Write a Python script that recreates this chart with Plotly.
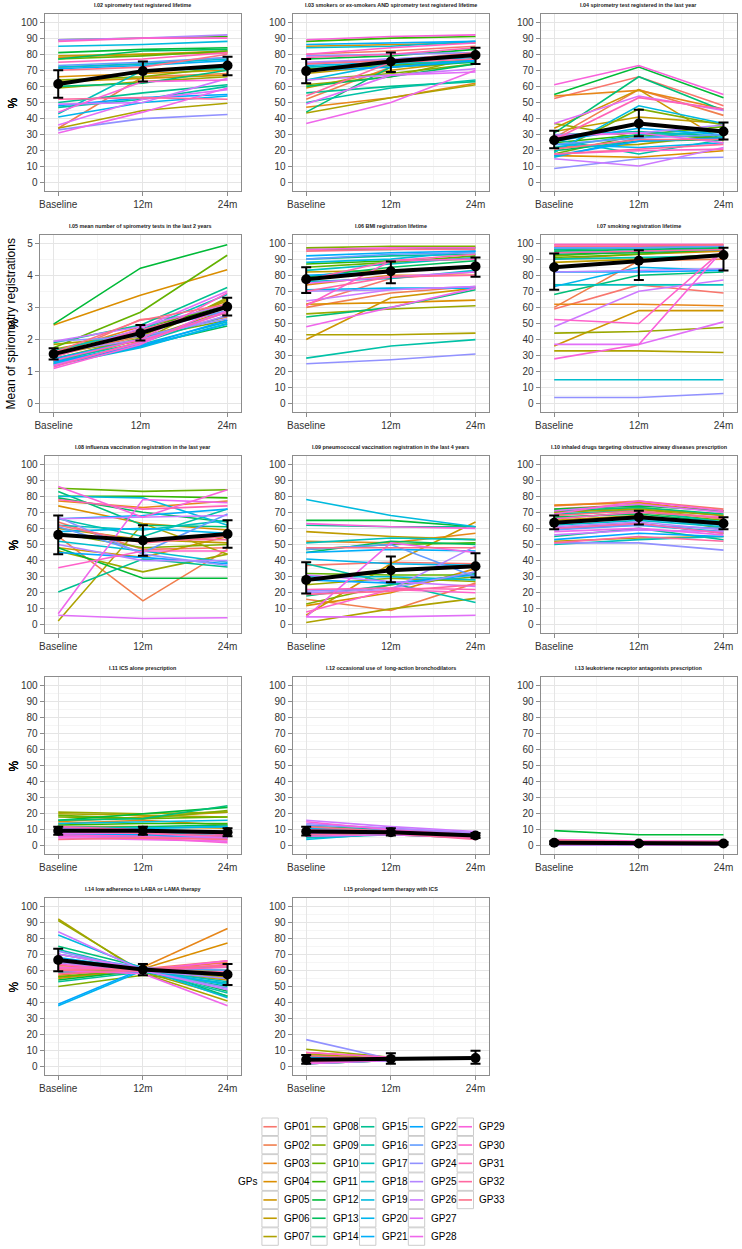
import math
import plotly.graph_objects as go

# ---------------- data ----------------
TIME_POS = [1, 2, 3]
TIME_LABELS = ["Baseline", "12m", "24m"]
GP_NAMES = ["GP%02d" % i for i in range(1, 34)]

PANEL_TITLES = [
    "I.02 spirometry test registered lifetime",
    "I.03 smokers or ex-smokers AND spirometry test registered lifetime",
    "I.04 spirometry test registered in the last year",
    "I.05 mean number of spirometry tests in the last 2 years",
    "I.06 BMI registration lifetime",
    "I.07 smoking registration lifetime",
    "I.08 influenza vaccination registration in the last year",
    "I.09 pneumococcal vaccination registration in the last 4 years",
    "I.10 inhaled drugs targeting obstructive airway diseases prescription",
    "I.11 ICS alone prescription",
    "I.12 occasional use of  long-action bronchodilators",
    "I.13 leukotriene receptor antagonists prescription",
    "I.14 low adherence to LABA or LAMA therapy",
    "I.15 prolonged term therapy with ICS",
]

# per-GP values (Baseline, 12m, 24m), GP01..GP33
I02 = [(72, 74, 78), (34, 66, 68), (78, 80, 82), (66, 68, 70), (63, 65, 67), (79, 80, 81), (34, 45, 49.5),
       (59, 63, 66), (64, 66, 72), (77, 79, 82), (89, 90, 91), (81, 83, 84), (77, 82, 83), (60, 62, 70),
       (50, 56, 61), (47, 52, 60), (43, 70, 71), (72, 74, 77), (85, 86, 88), (41, 50, 54), (71, 73, 76),
       (48, 53, 55), (73, 75, 78), (33, 40, 42.5), (89, 90, 92), (49, 50, 65), (36, 52, 58), (31, 44, 59),
       (44, 63, 64), (88, 90, 90), (75, 77, 81), (52, 53, 52), (70, 72, 80)]
I03 = [(80, 82, 85), (52, 72, 77), (47, 53, 62), (85, 86, 87), (59, 70, 76), (68, 73, 80), (43.5, 53, 61),
       (61, 66, 78), (64, 68, 74), (71, 73, 76), (88, 90, 91), (77, 79, 83), (60, 66, 74), (44, 72, 75),
       (56, 60, 63), (50, 59, 64), (72, 74, 76), (84, 85, 88), (64, 74, 80), (73, 75, 78), (86, 87, 88),
       (70, 72, 76), (74, 77, 80), (79, 80, 81), (75, 77, 79), (64, 67, 71), (49, 67, 69), (37, 50, 70),
       (89, 91, 92), (80, 84, 87), (78, 80, 84), (54, 75, 77), (74, 76, 81)]
I04 = [(52.5, 66, 48), (28, 58, 42), (54, 57.5, 46), (17, 16, 20), (34, 58, 26), (32, 41, 37), (22, 24, 30),
       (37, 28, 33), (19, 46, 36), (18, 30, 35), (25, 30, 28), (55, 72, 53), (20, 26, 27), (31, 66, 45),
       (30, 32, 29), (27, 18, 27), (22, 30, 32), (16, 28, 33), (19, 48, 37), (24, 22, 25), (26, 34, 30),
       (17, 26, 28), (24, 28, 30), (9, 15, 16), (30, 31, 36), (15, 10.5, 22), (37, 54, 45), (29, 31, 25),
       (61, 73, 55), (18, 20, 21), (27, 53, 46), (18, 21, 24), (21, 27, 27)]
I05 = [(1.45, 2.62, 2.8), (1.5, 2.1, 2.7), (1.6, 2.4, 3.0), (2.45, 3.38, 4.17), (1.3, 2.0, 2.9),
       (1.7, 2.2, 3.2), (1.85, 2.1, 3.25), (1.6, 1.95, 3.3), (1.4, 2.05, 2.6), (1.75, 2.85, 4.62),
       (1.5, 2.3, 3.1), (2.48, 4.22, 4.95), (1.25, 1.8, 2.42), (1.55, 2.2, 3.0), (1.9, 2.45, 3.62),
       (1.35, 1.9, 2.75), (1.65, 2.3, 3.4), (1.3, 1.85, 2.55), (1.2, 1.75, 2.5), (1.25, 1.78, 2.48),
       (1.4, 2.0, 2.85), (1.3, 1.8, 2.6), (1.5, 2.25, 2.9), (1.95, 2.1, 2.65), (1.6, 2.0, 2.75),
       (1.95, 2.4, 3.1), (1.45, 2.35, 3.5), (1.2, 1.9, 2.9), (1.1, 1.85, 3.05), (1.35, 2.0, 3.45),
       (1.15, 1.95, 2.85), (1.45, 2.3, 3.0), (1.6, 2.6, 3.1)]
I06 = [(62, 78, 82), (60, 69, 73), (74, 80, 80), (62, 63, 64.5), (40, 66, 72), (82, 83, 85), (43, 43, 44),
       (56, 59, 61), (97, 98, 98), (85, 88, 92), (87, 89, 90), (96, 96, 97), (79, 85, 89), (54, 60, 71),
       (90, 92, 93), (28.5, 36, 40), (83, 87, 91), (76, 78, 83), (88, 90, 95), (71, 72, 72), (92, 94, 95),
       (80, 82, 86), (90, 93, 94), (25, 27.5, 31), (70, 71, 73), (64, 71, 73), (75, 79, 82), (48, 60, 72),
       (96, 97, 97), (61, 89, 90), (77, 89, 93), (70, 79, 80), (95, 96, 96)]
I07 = [(59, 74, 69), (60, 89, 90), (62, 62, 61), (90, 93, 95), (36, 58, 58), (88, 90, 93), (33, 33, 32),
       (44, 45, 47.5), (92, 95, 97), (91, 93, 96), (96, 97, 98), (93, 94, 96), (95, 96, 97), (68, 80, 82),
       (96, 97, 98), (90, 91, 92), (74, 74, 74), (15, 15, 15), (97, 98, 98), (73, 85, 83), (94, 95, 96),
       (82, 82, 83), (97, 97, 98), (4, 4, 6.5), (82, 83, 84), (48, 70, 77), (37, 37, 51), (99, 99, 99),
       (28, 37, 96), (52.5, 50, 96), (99, 99, 99), (94, 95, 96), (98, 98, 99)]
I08 = [(64, 47, 48), (55, 15, 47), (77, 73, 77), (74, 63, 59), (48, 42, 55), (60, 53, 51), (2.5, 63, 44),
       (46, 33, 44), (57, 48, 50), (85, 83, 84), (80, 80, 79), (48, 29, 29), (79, 70, 64), (83, 62, 61),
       (20.5, 41, 36), (66, 55, 72), (62, 59, 65), (52, 46, 39), (80, 79, 62), (58, 60, 57), (66, 68, 72),
       (45, 42, 38), (61, 45, 69), (67, 44, 37), (50, 40, 40), (66, 67, 68), (6, 4, 4.5), (7, 78, 76),
       (86, 67, 84), (35.5, 46, 46), (78, 72, 74), (56, 53, 53), (62, 51, 55)]
I09 = [(37, 39, 38), (16, 9, 26), (52, 51, 57), (12, 20, 35), (6, 38, 64), (58, 55, 53), (1.5, 10, 16.5),
       (25, 29, 27), (13, 25, 30), (32, 31, 31), (47, 50, 51), (65, 65, 61), (45, 52, 50), (18, 25, 32),
       (62, 61, 61), (38, 26, 14), (51, 54, 53), (30, 30, 28), (78, 68, 61), (41, 38, 37), (45, 47, 46),
       (28, 26, 31), (47, 50, 30), (21, 23, 33), (20, 22, 49), (31, 27, 24), (5, 5, 6), (5, 51, 45),
       (63, 61, 60), (8, 22, 20), (22, 23, 22), (19, 21, 25), (48, 48, 48)]
I10 = [(74, 77, 72), (72, 75, 71), (74.5, 76, 70), (70, 73, 68), (65, 68, 62), (52, 54, 55), (68, 72, 66),
       (70, 72, 68), (63, 68, 60), (66, 70, 65), (60, 63, 57), (72, 74, 71), (67, 69, 64), (71, 73, 69),
       (55, 60, 53), (69, 71, 64), (50, 53, 55), (62, 65, 61), (60, 62, 58), (64, 66, 62), (63, 67, 64),
       (53, 57, 55), (59, 62, 60), (51, 51, 46.5), (61, 64, 59), (56, 59, 58), (71, 75, 70), (58, 60, 56),
       (69, 77, 71), (66, 70, 67), (60, 63, 57), (51, 55, 52), (68, 71, 66)]
I11 = [(8, 7, 6), (10, 9, 8), (14, 16, 13), (15, 18, 21), (12, 12, 11), (9, 8, 7), (20, 19, 18),
       (21, 20, 21), (18, 17, 22), (19, 17, 18), (13, 14, 14), (16, 20, 24), (11, 12, 13), (16, 17, 25),
       (9, 10, 9), (7, 7, 8), (12, 11, 12), (8, 8, 7), (14, 15, 16), (10, 11, 12), (6, 6, 5),
       (7, 7, 6), (9, 9, 8), (6, 5, 5), (11, 10, 9), (10, 9, 8), (8, 8, 5), (5, 4, 3),
       (6, 5, 2), (7, 6, 4), (12, 10, 7), (9, 8, 6), (4, 5, 4)]
I12 = [(9, 8, 6), (10, 9, 7), (8, 7, 5), (12, 10, 7), (7, 8, 6), (9, 9, 6), (11, 9, 7),
       (8, 8, 5), (6, 7, 6), (10, 9, 7), (9, 8, 6), (7, 8, 5), (8, 9, 7), (12, 10, 8),
       (6, 7, 5), (9, 8, 6), (5, 7, 6), (10, 9, 7), (4, 8, 6), (11, 10, 7), (8, 8, 6),
       (7, 9, 6), (13, 11, 8), (9, 8, 5), (14, 11, 8), (16, 12, 9), (8, 9, 6), (6, 7, 5),
       (15, 10, 7), (10, 9, 6), (9, 8, 5), (7, 8, 4), (12, 9, 6)]
I13 = [(2, 1, 1), (1, 1, 1.5), (3, 2, 2), (1.5, 1, 1), (2.5, 2, 1.5), (1, 0.5, 1), (3, 2.5, 2),
       (2, 1.5, 1.5), (0.5, 1, 1), (2, 2, 2.5), (1, 1, 1), (9.5, 7, 7), (3.5, 2.5, 2.5), (1.5, 1, 1),
       (2, 1.5, 1), (1, 1, 0.5), (2.5, 2, 2), (0.5, 0.5, 0.5), (1.5, 1, 1.5), (2, 1.5, 2), (1, 1, 1),
       (3, 2, 2), (1.5, 1.5, 1), (0.5, 0.5, 0.5), (2, 1.5, 1.5), (1, 1, 1), (2.5, 2, 2), (3, 2.5, 2),
       (1.5, 1, 1), (4, 3, 3), (2, 1.5, 1.5), (1, 1, 1), (3.5, 2.5, 2.5)]
I14 = [(63, 61, 66), (60, 60, 65), (57, 62, 86), (55, 61, 77), (56, 59, 54), (62, 60, 56), (92, 58, 41),
       (91, 59, 44), (50, 57, 52), (56, 61, 60), (59, 60, 55), (54, 60, 57), (70, 61, 47), (75, 62, 44),
       (53, 59, 50), (73, 60, 46), (65, 60, 53), (59, 59, 52), (82, 61, 43), (38, 60, 51), (68, 61, 58),
       (39, 61, 62), (70, 62, 60), (72, 60, 49), (65, 60, 55), (84, 60, 48), (70, 61, 63), (60, 58, 38),
       (62, 60, 66), (64, 59, 64), (61, 60, 62), (58, 60, 59), (60, 61, 63)]
I15 = [(4, 5, None), (9, 6, None), (3, 4, None), (6, 5, None), (2, 4, None), (5, 5, None), (8, 5, None),
       (11, 6, None), (3, 4, None), (4, 5, None), (7, 5, None), (2, 4, None), (5, 5, None), (3, 5, None),
       (6, 5, None), (4, 4, None), (3, 5, None), (2, 4, None), (5, 5, None), (4, 5, None), (3, 4, None),
       (6, 5, None), (2, 4, None), (17, 5, None), (4, 5, None), (3, 4, None), (5, 5, None), (2, 4, None),
       (4, 5, None), (9, 6, None), (3, 5, None), (5, 5, None), (7, 5, None)]

# overall mean with lower / upper error-bar limits (Baseline, 12m, 24m)
MEAN = [(61.5, 69.5, 73), (69.5, 75.5, 79.5), (26.5, 37, 32), (1.55, 2.2, 3.02), (77.5, 82.5, 85.5),
        (85, 89, 92.5), (56, 52.5, 56.5), (28, 34, 36.5), (63.5, 67, 63), (9.5, 9.5, 8.5),
        (9, 8.5, 6.5), (2, 1.5, 1.5), (66.5, 60.5, 57.5), (4.5, 5, 5.5)]
LOWER = [(53, 63, 67), (62, 69, 74), (21.5, 29, 27), (1.38, 1.97, 2.75), (69, 75, 79),
         (71, 77, 83), (44, 43, 48), (19.5, 26.5, 29.5), (59.5, 62.5, 59.5), (7, 7, 6),
         (6.5, 6.5, 5), (1, 0.8, 0.8), (59.5, 57, 51), (2, 2, 2)]
UPPER = [(70, 75.5, 78.5), (77, 81, 84), (32.5, 45.5, 37.5), (1.73, 2.45, 3.3), (85, 88.5, 91),
         (93.5, 95.5, 97), (68, 62, 65), (39, 42.5, 44.5), (68, 71, 67), (12, 12, 11),
         (12, 11, 8), (3, 2.5, 2.5), (73.5, 64, 64), (7.5, 8.5, 10)]

PANELS = [I02, I03, I04, I05, I06, I07, I08, I09, I10, I11, I12, I13, I14, I15]
Y_TITLES = ["%", "%", "%", "Mean of spirometry registrations", "%", "%", "%", "%", "%", "%", "%", "%", "%", "%"]


# ---------------- ggplot hue palette ----------------
def hcl_hex(h, c=100.0, l=65.0):
    WX, WY, WZ = 95.047, 100.0, 108.883
    hr = math.radians(h)
    U, V = c * math.cos(hr), c * math.sin(hr)
    Y = WY * (((l + 16) / 116) ** 3)
    t = WX + WY + WZ
    x, y = WX / t, WY / t
    uN = 2 * x / (6 * y - x + 1.5)
    vN = 4.5 * y / (6 * y - x + 1.5)
    u = U / (13 * l) + uN
    v = V / (13 * l) + vN
    X = 9.0 * Y * u / (4 * v)
    Z = -X / 3 - 5 * Y + 3 * Y / v

    def g(a):
        return 1.055 * a ** (1 / 2.4) - 0.055 if a > 0.00304 else 12.92 * a

    rgb = [g((3.240479 * X - 1.537150 * Y - 0.498535 * Z) / WY),
           g((-0.969256 * X + 1.875992 * Y + 0.041556 * Z) / WY),
           g((0.055648 * X - 0.204043 * Y + 1.057311 * Z) / WY)]
    return "#" + "".join("%02X" % int(round(255 * min(1, max(0, ch)))) for ch in rgb)


n_gp = len(GP_NAMES)
COLORS = [hcl_hex(15 + i * 360.0 / n_gp) for i in range(n_gp)]

# ---------------- layout geometry (pixels) ----------------
W, H = 742, 1249
ROW_TOP = [14, 235, 456, 677, 898]
PANEL_H = 177
COL_LR = [(39, 237), (289, 487), (539, 737)]

FONT = "Liberation Sans, Arial, sans-serif"
fig = go.Figure()
layout = dict(width=W, height=H, margin=dict(l=0, r=0, t=0, b=0),
              paper_bgcolor="white", plot_bgcolor="white", showlegend=False)
annotations = []
shapes = []

for p, data in enumerate(PANELS):
    r, c = divmod(p, 3)
    left, right = COL_LR[c]
    is_count = (p == 3)
    if is_count:
        left = 34
    top = ROW_TOP[r]
    bot = top + PANEL_H
    ax = "" if p == 0 else str(p + 1)
    xref, yref = "x" + ax, "y" + ax
    yr = [-0.25, 5.25] if is_count else [-5, 105]
    layout["xaxis" + ax] = dict(
        domain=[left / W, right / W], anchor=yref, range=[0.84, 3.16],
        tickmode="array", tickvals=TIME_POS, ticktext=TIME_LABELS,
        showgrid=True, gridcolor="#E5E5E5", gridwidth=1, zeroline=False,
        minor=dict(tickvals=[1.5, 2.5], showgrid=True, gridcolor="#F5F5F5", ticks=""),
        showline=True, linecolor="#8C8C8C", linewidth=1, mirror=True,
        ticks="outside", ticklen=4, tickcolor="#8C8C8C", ticklabeloverflow="allow",
        tickfont=dict(family=FONT, size=10, color="#333333"), fixedrange=True)
    layout["yaxis" + ax] = dict(
        domain=[1 - bot / H, 1 - top / H], anchor=xref, range=yr,
        tickmode="linear", tick0=0, dtick=1 if is_count else 10,
        showgrid=True, gridcolor="#E5E5E5", gridwidth=1, zeroline=False,
        minor=dict(dtick=0.5 if is_count else 5, tick0=0, showgrid=True, gridcolor="#F5F5F5", ticks=""),
        showline=True, linecolor="#8C8C8C", linewidth=1, mirror=True,
        ticks="outside", ticklen=4, tickcolor="#8C8C8C",
        tickfont=dict(family=FONT, size=10, color="#333333"), fixedrange=True)

    for g_i, vals in enumerate(data):
        fig.add_trace(go.Scatter(
            x=TIME_POS, y=list(vals), mode="lines", name=GP_NAMES[g_i],
            line=dict(color=COLORS[g_i], width=1.6), xaxis=xref, yaxis=yref,
            showlegend=False, connectgaps=False, hoverinfo="name+y"))

    m, lo, hi = MEAN[p], LOWER[p], UPPER[p]
    fig.add_trace(go.Scatter(
        x=TIME_POS, y=list(m), mode="lines+markers", name="Mean",
        line=dict(color="black", width=4), marker=dict(color="black", size=10),
        error_y=dict(type="data", symmetric=False,
                     array=[hi[k] - m[k] for k in range(3)],
                     arrayminus=[m[k] - lo[k] for k in range(3)],
                     color="black", thickness=2, width=5),
        xaxis=xref, yaxis=yref, showlegend=False))

    # panel title
    annotations.append(dict(
        text="<b>" + PANEL_TITLES[p] + "</b>", x=(left + right) / 2 / W, y=1 - (top - 9) / H,
        xref="paper", yref="paper", showarrow=False, xanchor="center", yanchor="middle",
        font=dict(family=FONT, size=5.4, color="#1A1A1A")))
    # y-axis title
    annotations.append(dict(
        text=Y_TITLES[p], x=(5 if is_count else 8) / W, y=1 - (top + PANEL_H / 2) / H,
        xref="paper", yref="paper", showarrow=False, textangle=-90,
        xanchor="center", yanchor="middle",
        font=dict(family=FONT, size=12 if is_count else 12, color="black")))

# ---------------- legend (ggplot-style, column-major) ----------------
LEG_ROWS = 7
KEY_X0, KEY_DX = 258, 49.2
KEY_Y0, KEY_DY = 1118, 18.3
KEY_W, KEY_H = 16.5, 17.5
annotations.append(dict(
    text="GPs", x=255 / W, y=1 - (KEY_Y0 + 3 * KEY_DY + KEY_H / 2) / H, xref="paper", yref="paper",
    showarrow=False, xanchor="right", yanchor="middle",
    font=dict(family=FONT, size=10, color="black")))
for g_i, name in enumerate(GP_NAMES):
    col, row = divmod(g_i, LEG_ROWS)
    kx = KEY_X0 + col * KEY_DX
    ky = KEY_Y0 + row * KEY_DY
    shapes.append(dict(type="rect", xref="paper", yref="paper",
                       x0=kx / W, x1=(kx + KEY_W) / W, y0=1 - ky / H, y1=1 - (ky + KEY_H) / H,
                       line=dict(color="#CCCCCC", width=1), fillcolor="white"))
    shapes.append(dict(type="line", xref="paper", yref="paper",
                       x0=(kx + 1.5) / W, x1=(kx + KEY_W - 1.5) / W,
                       y0=1 - (ky + KEY_H / 2) / H, y1=1 - (ky + KEY_H / 2) / H,
                       line=dict(color=COLORS[g_i], width=1.6)))
    annotations.append(dict(
        text=name, x=(kx + KEY_W + 4) / W, y=1 - (ky + KEY_H / 2) / H, xref="paper", yref="paper",
        showarrow=False, xanchor="left", yanchor="middle",
        font=dict(family=FONT, size=10, color="black")))

layout["annotations"] = annotations
layout["shapes"] = shapes
fig.update_layout(**layout)
fig.write_html("out.html", config={"displayModeBar": False},
               post_script="document.body.style.margin='0px';document.body.style.overflow='hidden';")
